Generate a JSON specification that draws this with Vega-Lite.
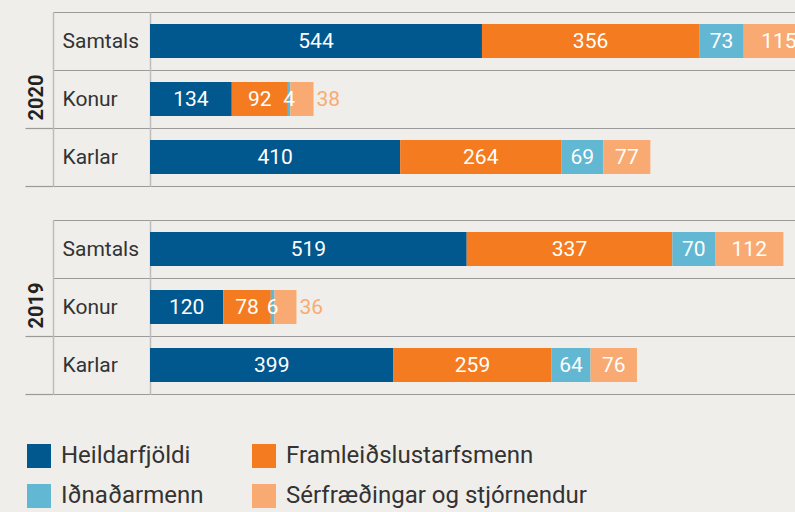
{
  "$schema": "https://vega.github.io/schema/vega-lite/v6.json",
  "background": "#f0eeea",
  "padding": {"left": 24, "top": 1, "right": 0, "bottom": 5},
  "config": {"view": {"stroke": null}, "font": "Roboto", "concat": {"spacing": 22}},
  "datasets": {
    "rows": [
      {"year": "2020", "group": "Samtals", "cat": "Heildarfjöldi", "k": 1, "value": 544},
      {"year": "2020", "group": "Samtals", "cat": "Framleiðslustarfsmenn", "k": 2, "value": 356},
      {"year": "2020", "group": "Samtals", "cat": "Iðnaðarmenn", "k": 3, "value": 73},
      {"year": "2020", "group": "Samtals", "cat": "Sérfræðingar og stjórnendur", "k": 4, "value": 115},
      {"year": "2020", "group": "Konur", "cat": "Heildarfjöldi", "k": 1, "value": 134},
      {"year": "2020", "group": "Konur", "cat": "Framleiðslustarfsmenn", "k": 2, "value": 92},
      {"year": "2020", "group": "Konur", "cat": "Iðnaðarmenn", "k": 3, "value": 4},
      {"year": "2020", "group": "Konur", "cat": "Sérfræðingar og stjórnendur", "k": 4, "value": 38},
      {"year": "2020", "group": "Karlar", "cat": "Heildarfjöldi", "k": 1, "value": 410},
      {"year": "2020", "group": "Karlar", "cat": "Framleiðslustarfsmenn", "k": 2, "value": 264},
      {"year": "2020", "group": "Karlar", "cat": "Iðnaðarmenn", "k": 3, "value": 69},
      {"year": "2020", "group": "Karlar", "cat": "Sérfræðingar og stjórnendur", "k": 4, "value": 77},
      {"year": "2019", "group": "Samtals", "cat": "Heildarfjöldi", "k": 1, "value": 519},
      {"year": "2019", "group": "Samtals", "cat": "Framleiðslustarfsmenn", "k": 2, "value": 337},
      {"year": "2019", "group": "Samtals", "cat": "Iðnaðarmenn", "k": 3, "value": 70},
      {"year": "2019", "group": "Samtals", "cat": "Sérfræðingar og stjórnendur", "k": 4, "value": 112},
      {"year": "2019", "group": "Konur", "cat": "Heildarfjöldi", "k": 1, "value": 120},
      {"year": "2019", "group": "Konur", "cat": "Framleiðslustarfsmenn", "k": 2, "value": 78},
      {"year": "2019", "group": "Konur", "cat": "Iðnaðarmenn", "k": 3, "value": 6},
      {"year": "2019", "group": "Konur", "cat": "Sérfræðingar og stjórnendur", "k": 4, "value": 36},
      {"year": "2019", "group": "Karlar", "cat": "Heildarfjöldi", "k": 1, "value": 399},
      {"year": "2019", "group": "Karlar", "cat": "Framleiðslustarfsmenn", "k": 2, "value": 259},
      {"year": "2019", "group": "Karlar", "cat": "Iðnaðarmenn", "k": 3, "value": 64},
      {"year": "2019", "group": "Karlar", "cat": "Sérfræðingar og stjórnendur", "k": 4, "value": 76}
    ]
  },
  "data": {"name": "rows"},
  "vconcat": [
    {
      "width": 645,
      "height": 174,
      "transform": [{"filter": "datum.year == '2020'"}],
      "encoding": {
        "x": {"field": "value", "type": "quantitative", "stack": "zero", "scale": {"domain": [0, 1057]}, "axis": null},
        "order": {"field": "k", "type": "quantitative"}
      },
      "layer": [
        {
          "mark": {"type": "bar", "height": 34, "clip": true},
          "encoding": {
            "y": {"field": "group", "type": "nominal", "sort": ["Samtals", "Konur", "Karlar"], "scale": {"paddingInner": 0, "paddingOuter": 0},
              "axis": {"title": null, "orient": "left", "tickBand": "extent", "ticks": true, "tickSize": 97, "tickColor": "#9a9a9a", "tickWidth": 1.2, "grid": true, "gridColor": "#9a9a9a", "gridWidth": 1.2, "domain": true, "domainColor": "#bcbcbc", "domainWidth": 1.5, "labelAlign": "left", "labelPadding": -9, "labelFontSize": 21, "labelColor": "#333333", "labelFont": "Roboto", "labelBaseline": "middle"}},
            "color": {"field": "cat", "type": "nominal", "sort": ["Heildarfjöldi", "Framleiðslustarfsmenn", "Iðnaðarmenn", "Sérfræðingar og stjórnendur"],
              "scale": {"domain": ["Heildarfjöldi", "Framleiðslustarfsmenn", "Iðnaðarmenn", "Sérfræðingar og stjórnendur"], "range": ["#00588f", "#f47b20", "#62b7d2", "#f9aa72"]},
              "legend": {"orient": "none", "legendX": -123, "legendY": 432, "direction": "horizontal", "columns": 2, "title": null, "symbolType": "square", "symbolSize": 576, "symbolStrokeWidth": 0, "labelFontSize": 24, "labelFont": "Roboto", "labelColor": "#333333", "labelOffset": 10, "columnPadding": 48, "rowPadding": 16, "labelLimit": 400}}
          }
        },
        {
          "mark": {"type": "text", "fontSize": 21, "color": "#ffffff", "baseline": "middle", "align": "center", "clip": true, "dy": 1},
          "encoding": {
            "y": {"field": "group", "type": "nominal", "sort": ["Samtals", "Konur", "Karlar"],
              "axis": {"orient": "left", "offset": 97, "domain": true, "domainColor": "#bcbcbc", "domainWidth": 1.5, "labels": false, "grid": false, "ticks": true, "values": ["Karlar"], "bandPosition": 1, "tickExtra": true, "tickSize": 28, "tickColor": "#9a9a9a", "tickWidth": 1.2, "title": "2020", "titleFontSize": 20, "titleFontWeight": "bold", "titleColor": "#222222", "titleX": -17, "titleY": 85, "titleAngle": -90, "titleAlign": "center", "titleBaseline": "middle"}},
            "x": {"field": "value", "type": "quantitative", "stack": "zero", "bandPosition": 0.5},
            "text": {"field": "value", "type": "quantitative"},
            "opacity": {"condition": {"test": "datum.k == 4 && datum.value < 50", "value": 0}, "value": 1}
          }
        },
        {
          "mark": {"type": "text", "fontSize": 21, "color": "#f9aa72", "baseline": "middle", "align": "left", "dx": 3, "dy": 1},
          "encoding": {
            "y": {"field": "group", "type": "nominal", "sort": ["Samtals", "Konur", "Karlar"], "axis": null},
            "x": {"field": "value", "type": "quantitative", "stack": "zero"},
            "text": {"field": "value", "type": "quantitative"},
            "opacity": {"condition": {"test": "datum.k == 4 && datum.value < 50", "value": 1}, "value": 0}
          }
        }
      ],
      "resolve": {"axis": {"y": "independent"}}
    },
    {
      "width": 645,
      "height": 174,
      "transform": [{"filter": "datum.year == '2019'"}],
      "encoding": {
        "x": {"field": "value", "type": "quantitative", "stack": "zero", "scale": {"domain": [0, 1057]}, "axis": null},
        "order": {"field": "k", "type": "quantitative"}
      },
      "layer": [
        {
          "mark": {"type": "bar", "height": 34, "clip": true},
          "encoding": {
            "y": {"field": "group", "type": "nominal", "sort": ["Samtals", "Konur", "Karlar"], "scale": {"paddingInner": 0, "paddingOuter": 0},
              "axis": {"title": null, "orient": "left", "tickBand": "extent", "ticks": true, "tickSize": 97, "tickColor": "#9a9a9a", "tickWidth": 1.2, "grid": true, "gridColor": "#9a9a9a", "gridWidth": 1.2, "domain": true, "domainColor": "#bcbcbc", "domainWidth": 1.5, "labelAlign": "left", "labelPadding": -9, "labelFontSize": 21, "labelColor": "#333333", "labelFont": "Roboto", "labelBaseline": "middle"}},
            "color": {"field": "cat", "type": "nominal", "sort": ["Heildarfjöldi", "Framleiðslustarfsmenn", "Iðnaðarmenn", "Sérfræðingar og stjórnendur"],
              "scale": {"domain": ["Heildarfjöldi", "Framleiðslustarfsmenn", "Iðnaðarmenn", "Sérfræðingar og stjórnendur"], "range": ["#00588f", "#f47b20", "#62b7d2", "#f9aa72"]},
              "legend": null}
          }
        },
        {
          "mark": {"type": "text", "fontSize": 21, "color": "#ffffff", "baseline": "middle", "align": "center", "clip": true, "dy": 1},
          "encoding": {
            "y": {"field": "group", "type": "nominal", "sort": ["Samtals", "Konur", "Karlar"],
              "axis": {"orient": "left", "offset": 97, "domain": true, "domainColor": "#bcbcbc", "domainWidth": 1.5, "labels": false, "grid": false, "ticks": true, "values": ["Karlar"], "bandPosition": 1, "tickExtra": true, "tickSize": 28, "tickColor": "#9a9a9a", "tickWidth": 1.2, "title": "2019", "titleFontSize": 20, "titleFontWeight": "bold", "titleColor": "#222222", "titleX": -17, "titleY": 85, "titleAngle": -90, "titleAlign": "center", "titleBaseline": "middle"}},
            "x": {"field": "value", "type": "quantitative", "stack": "zero", "bandPosition": 0.5},
            "text": {"field": "value", "type": "quantitative"},
            "opacity": {"condition": {"test": "datum.k == 4 && datum.value < 50", "value": 0}, "value": 1}
          }
        },
        {
          "mark": {"type": "text", "fontSize": 21, "color": "#f9aa72", "baseline": "middle", "align": "left", "dx": 3, "dy": 1},
          "encoding": {
            "y": {"field": "group", "type": "nominal", "sort": ["Samtals", "Konur", "Karlar"], "axis": null},
            "x": {"field": "value", "type": "quantitative", "stack": "zero"},
            "text": {"field": "value", "type": "quantitative"},
            "opacity": {"condition": {"test": "datum.k == 4 && datum.value < 50", "value": 1}, "value": 0}
          }
        }
      ],
      "resolve": {"axis": {"y": "independent"}}
    }
  ]
}
